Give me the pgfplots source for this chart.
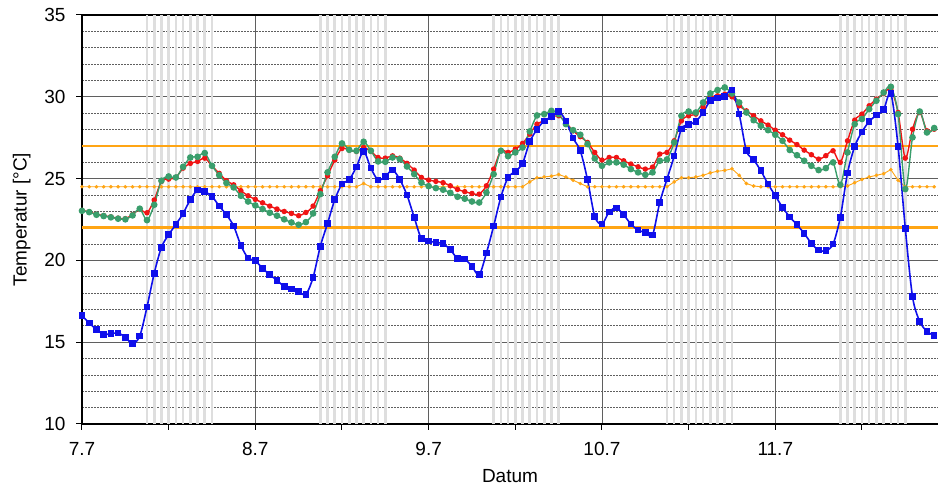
\documentclass[border=0pt]{standalone}
\usepackage{fontspec}
\setmainfont{Liberation Sans}
\usepackage{pgfplots}
\usepackage{pgfplotstable}
\pgfplotsset{compat=1.18}
\definecolor{cblue}{RGB}{15,15,235}
\definecolor{cred}{RGB}{240,20,20}
\definecolor{cgreen}{RGB}{58,158,108}
\definecolor{corange}{RGB}{255,165,20}
\definecolor{cband}{RGB}{222,222,222}
\definecolor{cgrid}{RGB}{95,95,95}

\pgfplotstableread{
h b r g o
0 16.62 23.05 23.03 24.5
1 16.17 22.97 22.95 24.5
2 15.78 22.82 22.79 24.5
3 15.48 22.74 22.71 24.5
4 15.52 22.66 22.63 24.5
5 15.56 22.58 22.55 24.5
6 15.30 22.55 22.51 24.5
7 14.91 22.80 22.75 24.5
8 15.38 23.12 23.16 24.5
9 17.15 22.91 22.46 24.5
10 19.21 23.69 23.40 24.5
11 20.80 24.83 24.87 24.5
12 21.57 24.97 25.13 24.5
13 22.20 25.07 25.07 24.5
14 22.87 25.64 25.72 24.5
15 23.71 25.93 26.29 24.5
16 24.30 26.05 26.33 24.5
17 24.20 26.25 26.56 24.5
18 23.91 25.78 25.78 24.5
19 23.32 25.32 25.21 24.5
20 22.79 24.87 24.73 24.5
21 22.10 24.62 24.46 24.5
22 20.92 24.26 23.95 24.5
23 20.14 23.95 23.60 24.5
24 19.98 23.73 23.36 24.5
25 19.51 23.52 23.14 24.5
26 19.12 23.32 22.91 24.5
27 18.78 23.14 22.73 24.5
28 18.41 22.99 22.51 24.5
29 18.25 22.87 22.32 24.5
30 18.09 22.73 22.18 24.5
31 17.92 22.93 22.34 24.5
32 18.96 23.32 22.87 24.5
33 20.86 24.26 24.05 24.5
34 22.26 25.17 25.38 24.5
35 23.71 26.13 26.33 24.5
36 24.66 26.84 27.15 24.5
37 24.93 26.74 26.76 24.5
38 25.72 26.66 26.70 24.5
39 26.66 26.90 27.25 24.7
40 25.64 26.66 26.70 24.5
41 24.91 26.29 26.05 24.5
42 25.13 26.25 26.03 24.5
43 25.52 26.39 26.29 24.5
44 24.95 26.25 26.19 24.5
45 23.99 25.93 25.74 24.5
46 22.63 25.52 25.27 24.5
47 21.32 25.07 24.75 24.5
48 21.18 24.91 24.54 24.5
49 21.10 24.83 24.42 24.5
50 21.02 24.75 24.32 24.5
51 20.65 24.56 24.13 24.5
52 20.12 24.34 23.89 24.5
53 20.08 24.20 23.77 24.5
54 19.63 24.09 23.60 24.5
55 19.12 24.05 23.54 24.5
56 20.45 24.56 24.15 24.5
57 22.10 25.58 25.27 24.5
58 23.87 26.70 26.70 24.5
59 25.07 26.60 26.37 24.5
60 25.44 26.80 26.60 24.5
61 25.93 27.15 26.90 24.5
62 27.25 27.72 27.88 24.8
63 28.00 28.33 28.86 25.05
64 28.53 28.53 28.94 25.1
65 28.78 28.74 29.14 25.15
66 29.10 28.84 28.94 25.25
67 28.53 28.43 28.33 25.1
68 27.47 27.92 27.96 24.9
69 26.70 27.56 27.68 24.7
70 24.93 27.21 27.11 24.5
71 22.69 26.60 26.23 24.5
72 22.22 26.13 25.78 24.5
73 22.97 26.29 25.99 24.5
74 23.20 26.29 25.99 24.5
75 22.79 26.09 25.85 24.5
76 22.22 25.89 25.58 24.5
77 21.85 25.72 25.38 24.5
78 21.71 25.58 25.23 24.5
79 21.55 25.70 25.38 24.5
80 23.54 26.50 26.09 24.5
81 24.97 26.60 26.17 24.5
82 26.37 27.31 27.21 24.8
83 28.04 28.53 28.84 25.05
84 28.29 28.84 29.10 25.05
85 28.49 28.94 29.04 25.1
86 29.04 29.35 29.65 25.2
87 29.76 29.96 30.20 25.35
88 29.92 30.06 30.41 25.45
89 30.00 30.16 30.57 25.5
90 30.41 30.00 30.20 25.6
91 28.94 29.45 29.65 25.2
92 26.70 29.14 29.04 24.7
93 26.15 28.84 28.57 24.55
94 25.48 28.53 28.23 24.5
95 24.66 28.27 27.96 24.5
96 23.95 27.96 27.68 24.5
97 23.24 27.68 27.31 24.5
98 22.66 27.35 26.75 24.5
99 22.18 27.08 26.43 24.5
100 21.65 26.74 26.09 24.5
101 21.04 26.46 25.78 24.5
102 20.63 26.19 25.52 24.5
103 20.59 26.40 25.64 24.5
104 21.00 26.70 25.99 24.5
105 22.63 25.99 24.62 24.5
106 25.34 27.31 26.60 24.55
107 26.97 28.57 28.33 24.75
108 27.86 28.94 28.64 24.95
109 28.49 29.45 29.25 25.1
110 28.88 29.86 29.76 25.2
111 29.21 30.20 30.26 25.3
112 30.20 30.47 30.61 25.55
113 26.97 29.04 28.94 24.9
114 21.96 26.25 24.36 24.5
115 17.78 28.02 27.52 24.5
116 16.27 29.04 29.10 24.5
117 15.66 27.92 27.82 24.5
118 15.40 28.02 28.09 24.5
}\data

\begin{document}
\begin{tikzpicture}
\begin{axis}[
  scale only axis, width=856pt, height=409pt,
  xmin=0, xmax=118.53, ymin=10, ymax=35,
  axis y line*=left,
  axis line style={line width=2.2pt, black},
  xtick={0,24,48,72,96},
  xticklabels={7.7,8.7,9.7,10.7,11.7},
  minor xtick={12,36,60,84,108},
  ytick={10,15,20,25,30,35},
  minor ytick={11,12,13,14,16,17,18,19,21,22,23,24,26,27,28,29,31,32,33,34},
  tick align=outside,
  xtick pos=bottom,
  major tick length=6pt, minor tick length=6pt,
  tick style={black, line width=1pt},
  minor y tick style={draw=none},
  xmajorgrids=true, ymajorgrids=true, yminorgrids=true,
  major grid style={cgrid, line width=0.9pt},
  minor grid style={cgrid, line width=0.8pt, dash pattern=on 2pt off 1pt},
  extra x ticks={9,10,11,12,13,14,15,16,17,18,33,34,35,36,37,38,39,40,41,42,57,58,59,60,61,62,63,64,65,66,81,82,83,84,85,86,87,88,89,90,105,106,107,108,109,110,111,112,113,114},
  extra x tick labels={},
  extra x tick style={xmajorgrids=true, major grid style={cband, line width=2.6pt}, major tick length=0pt},
  tick label style={font=\fontsize{19}{22}\selectfont},
  label style={font=\fontsize{19}{22}\selectfont},
  yticklabel style={xshift=-7pt},
  xticklabel style={yshift=-9pt},
  xlabel style={yshift=-1pt},
  ylabel style={yshift=7pt},
  /pgf/number format/assume math mode=true,
  xlabel={Datum},
  ylabel={Temperatur [°C]},
]
\addplot[corange, line width=2.6pt, forget plot] coordinates {(0,27) (118.53,27)};
\addplot[corange, line width=2.6pt, forget plot] coordinates {(0,22) (118.53,22)};
\addplot[corange, line width=0.9pt, mark=*, mark size=1.3pt] table[x=h,y=o]{\data};
\addplot[cred, line width=1.4pt, smooth, mark=*, mark size=2pt] table[x=h,y=r]{\data};
\addplot[cgreen, line width=1.4pt, smooth, mark=*, mark size=2.6pt] table[x=h,y=g]{\data};
\addplot[cblue, line width=1.6pt, smooth, mark=square*, mark size=2.5pt] table[x=h,y=b]{\data};
\end{axis}
\pgfresetboundingbox
\path[use as bounding box] ([xshift=-82pt,yshift=-64pt]current axis.south west) rectangle ([yshift=15pt]current axis.north east);
\end{tikzpicture}
\end{document}
